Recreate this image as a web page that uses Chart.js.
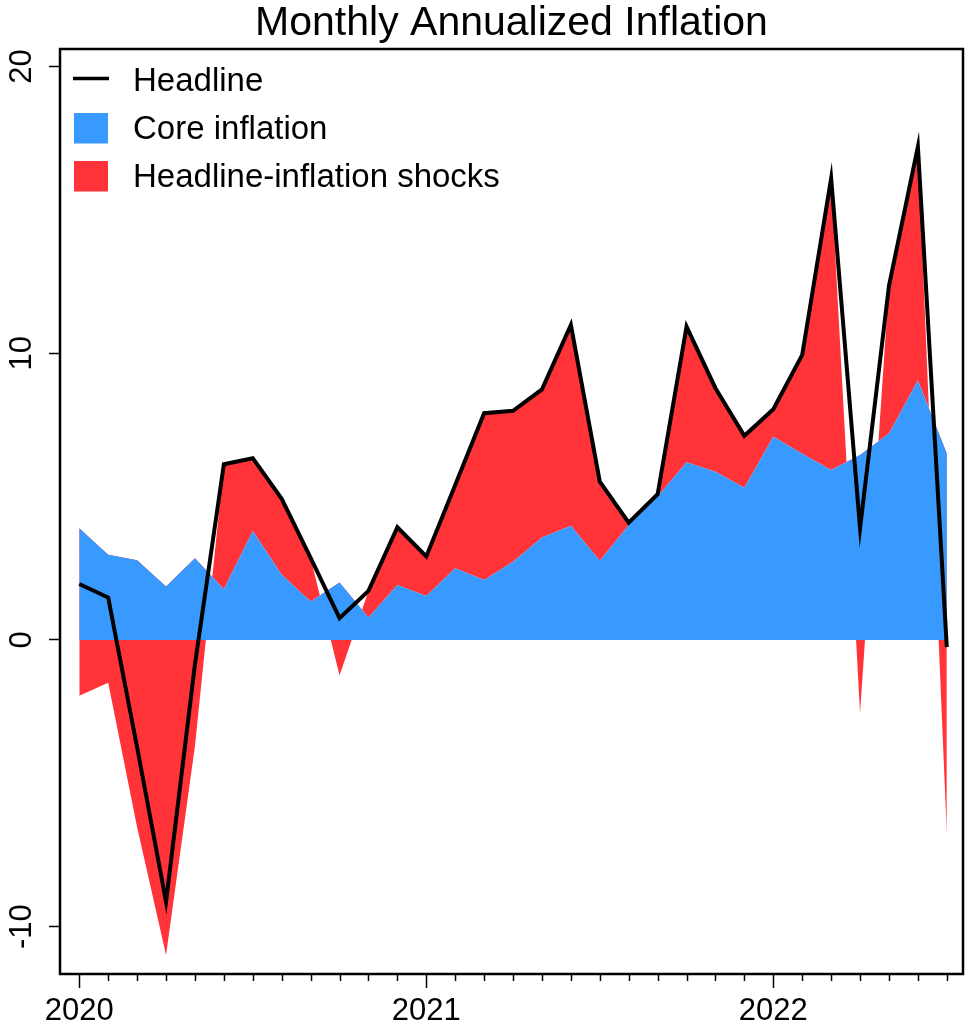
<!DOCTYPE html>
<html>
<head>
<meta charset="utf-8">
<title>Monthly Annualized Inflation</title>
<script src="https://cdn.jsdelivr.net/npm/chart.js@4.4.1/dist/chart.umd.min.js"></script>
<style>
    html, body { margin: 0; padding: 0; background: #fff; }
    #inflationChart { display: block; }
</style>
</head>
<body>
<canvas id="inflationChart" width="966" height="1027"></canvas>
<script>
// Monthly series, Jan 2020 - Jul 2022 (annualized %)
const months = [
    '2020-01', '2020-02', '2020-03', '2020-04', '2020-05', '2020-06',
    '2020-07', '2020-08', '2020-09', '2020-10', '2020-11', '2020-12',
    '2021-01', '2021-02', '2021-03', '2021-04', '2021-05', '2021-06',
    '2021-07', '2021-08', '2021-09', '2021-10', '2021-11', '2021-12',
    '2022-01', '2022-02', '2022-03', '2022-04', '2022-05', '2022-06',
    '2022-07'
];
const headline = [
    1.95, 1.48, -3.75, -9.13, -0.85, 6.13,
    6.34, 4.92, 2.86, 0.76, 1.71, 3.93,
    2.91, 5.40, 7.91, 7.99, 8.74, 10.99,
    5.52, 4.09, 5.08, 10.93, 8.78, 7.12,
    8.05, 9.94, 16.10, 3.90, 12.35, 17.20,
    -0.25
];
const coreInflation = [
    3.90, 2.97, 2.78, 1.86, 2.85, 1.77,
    3.80, 2.27, 1.34, 2.00, 0.78, 1.92,
    1.53, 2.50, 2.09, 2.73, 3.57, 3.98,
    2.76, 4.00, 5.00, 6.20, 5.87, 5.31,
    7.09, 6.49, 5.93, 6.45, 7.20, 9.05,
    6.50
];
// headline minus core
const headlineShocks = [
    -1.95, -1.49, -6.53, -10.99, -3.70, 4.36,
    2.54, 2.65, 1.52, -1.24, 0.93, 2.01,
    1.38, 2.90, 5.82, 5.26, 5.17, 7.01,
    2.76, 0.09, 0.08, 4.73, 2.91, 1.81,
    0.96, 3.45, 10.17, -2.55, 5.15, 8.15,
    -6.75
];
const xTickMonths = ['2020-01', '2021-01', '2022-01'];
const xTickLabels = ['2020', '2021', '2022'];
const yTicks = [-10, 0, 10, 20];

const BLUE = '#3899FF';
const RED = '#FF3338';
const FONT = '"Liberation Sans", Arial, Helvetica, sans-serif';

Chart.defaults.font.family = FONT;
Chart.defaults.color = '#000';

const toPoints = values => values.map((v, i) => ({ x: i, y: v }));

// frame, monthly minor ticks, title and in-plot legend
const chartDecor = {
    id: 'chartDecor',
    afterDraw(chart) {
        const { ctx, chartArea: area, scales } = chart;
        ctx.save();

        ctx.strokeStyle = '#000';
        ctx.lineWidth = 2.5;
        ctx.strokeRect(area.left, area.top, area.right - area.left, area.bottom - area.top);

        ctx.lineWidth = 1.5;
        months.forEach((m, i) => {
            if (xTickMonths.includes(m)) return;
            const x = Math.round(scales.x.getPixelForValue(i)) + 0.5;
            ctx.beginPath();
            ctx.moveTo(x, area.bottom);
            ctx.lineTo(x, area.bottom + 7);
            ctx.stroke();
        });

        ctx.fillStyle = '#000';
        ctx.font = `41px ${FONT}`;
        ctx.textAlign = 'center';
        ctx.textBaseline = 'alphabetic';
        ctx.fillText('Monthly Annualized Inflation', (area.left + area.right) / 2, 35);

        ctx.font = `33px ${FONT}`;
        ctx.textAlign = 'left';
        chart.data.datasets.forEach((ds, i) => {
            const base = area.top + 42 + i * 48;
            if (i === 0) {
                ctx.strokeStyle = ds.borderColor;
                ctx.lineWidth = 3.3;
                ctx.beginPath();
                ctx.moveTo(area.left + 13, base - 12.5);
                ctx.lineTo(area.left + 49, base - 12.5);
                ctx.stroke();
            } else {
                ctx.fillStyle = ds.backgroundColor;
                ctx.fillRect(area.left + 14, base - 26, 34, 30.5);
            }
            ctx.fillStyle = '#000';
            ctx.fillText(ds.label, area.left + 73, base);
        });

        ctx.restore();
    }
};

new Chart(document.getElementById('inflationChart'), {
    type: 'line',
    data: {
        datasets: [{
            label: 'Headline',
            data: toPoints(headline),
            stack: 'headline',
            borderColor: '#000',
            borderWidth: 4,
            borderJoinStyle: 'miter',
            borderCapStyle: 'butt',
            pointRadius: 0,
            fill: false,
            tension: 0
        }, {
            label: 'Core inflation',
            data: toPoints(coreInflation),
            backgroundColor: BLUE,
            borderColor: 'rgba(0,0,0,0)',
            borderWidth: 0,
            pointRadius: 0,
            fill: 'origin',
            tension: 0
        }, {
            label: 'Headline-inflation shocks',
            data: toPoints(headlineShocks),
            backgroundColor: RED,
            borderColor: 'rgba(0,0,0,0)',
            borderWidth: 0,
            pointRadius: 0,
            fill: '-1',
            tension: 0
        }]
    },
    options: {
        responsive: false,
        animation: false,
        layout: { padding: { top: 49, right: 3, left: 0, bottom: 0 } },
        plugins: {
            legend: { display: false },
            title: { display: false },
            tooltip: { enabled: false }
        },
        scales: {
            x: {
                type: 'linear',
                min: -0.667,
                max: 30.56,
                afterBuildTicks: scale => {
                    scale.ticks = xTickMonths.map(m => ({ value: months.indexOf(m) }));
                },
                afterFit: scale => { scale.height = 53; },
                border: { display: false },
                grid: { drawOnChartArea: false, tickLength: 14, tickWidth: 1.5, tickColor: '#000' },
                ticks: {
                    font: { size: 31 },
                    padding: 5,
                    minRotation: 0,
                    maxRotation: 0,
                    autoSkip: false,
                    callback: (value, index) => xTickLabels[index]
                }
            },
            y: {
                stacked: true,
                min: -11.65,
                max: 20.61,
                afterBuildTicks: scale => {
                    scale.ticks = yTicks.map(v => ({ value: v }));
                },
                afterFit: scale => { scale.width = 60; },
                border: { display: false },
                grid: { drawOnChartArea: false, tickLength: 11, tickWidth: 1.5, tickColor: '#000' },
                ticks: {
                    font: { size: 31 },
                    padding: 4,
                    minRotation: 90,
                    maxRotation: 90,
                    crossAlign: 'center',
                    callback: value => String(value)
                }
            }
        }
    },
    plugins: [chartDecor]
});
</script>
</body>
</html>
